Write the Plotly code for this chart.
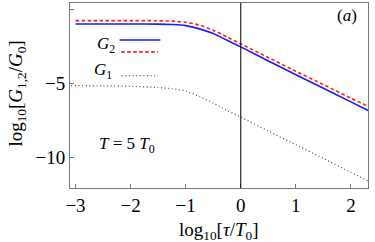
import plotly.graph_objects as go

# log10(tau/T0)
x_vals = [-3.0, -2.5, -2.0, -1.5, -1.25, -1.0, -0.75, -0.5, -0.25, 0.0, 0.5, 1.0, 1.5, 2.0, 2.31]
g2_blue = [-0.95, -0.95, -0.95, -0.96, -0.99, -1.06, -1.28, -1.60, -2.05, -2.50, -3.45, -4.38, -5.30, -6.22, -6.80]
g2_red = [-0.72, -0.72, -0.72, -0.73, -0.76, -0.83, -1.03, -1.37, -1.83, -2.30, -3.22, -4.15, -5.05, -5.97, -6.52]
x_g1 = [-3.08, -2.5, -2.0, -1.5, -1.25, -1.0, -0.75, -0.5, -0.25, 0.0, 0.5, 1.0, 1.5, 2.0, 2.31]
g1_vals = [-5.12, -5.14, -5.17, -5.25, -5.33, -5.48, -5.85, -6.30, -6.80, -7.25, -8.20, -9.12, -10.05, -11.00, -11.58]

x_ticks = [-3, -2, -1, 0, 1, 2]
y_ticks = [0, -5, -10]

FONT = "Liberation Serif"
fig = go.Figure()

fig.add_trace(go.Scatter(x=x_g1, y=g1_vals, mode="lines",
                         line=dict(color="#555555", width=1.3, dash="1px,2.6px", shape="spline", smoothing=0.6),
                         showlegend=False, hoverinfo="skip"))
fig.add_trace(go.Scatter(x=x_vals, y=g2_blue, mode="lines",
                         line=dict(color="#1a1aff", width=1.6, shape="spline", smoothing=0.6),
                         showlegend=False, hoverinfo="skip"))
fig.add_trace(go.Scatter(x=x_vals, y=g2_red, mode="lines",
                         line=dict(color="#ff2020", width=1.6, dash="3.5px,2.5px", shape="spline", smoothing=0.6),
                         showlegend=False, hoverinfo="skip"))

# vertical line at x = 0
fig.add_shape(type="line", xref="x", yref="paper", x0=0, x1=0, y0=0, y1=1,
              line=dict(color="black", width=1))

# legend keys
fig.add_shape(type="line", xref="x", yref="y", x0=-2.2, x1=-1.46, y0=-2.03, y1=-2.03,
              line=dict(color="#1a1aff", width=1.6))
fig.add_shape(type="line", xref="x", yref="y", x0=-2.17, x1=-1.5, y0=-2.84, y1=-2.84,
              line=dict(color="#ff2020", width=1.6, dash="3.5px,2.5px"))
fig.add_shape(type="line", xref="x", yref="y", x0=-2.16, x1=-1.5, y0=-4.44, y1=-4.44,
              line=dict(color="#555555", width=1.3, dash="1px,2.6px"))

ann_font = dict(family=FONT, size=17, color="black")
title_font = dict(family=FONT, size=19, color="black")
fig.add_annotation(x=-2.45, y=-2.35, xref="x", yref="y", text="<i>G</i><sub>2</sub>",
                   showarrow=False, font=ann_font)
fig.add_annotation(x=-2.5, y=-4.15, xref="x", yref="y", text="<i>G</i><sub>1</sub>",
                   showarrow=False, font=ann_font)
fig.add_annotation(x=-2.07, y=-9.15, xref="x", yref="y", text="<i>T</i> = 5 <i>T</i><sub>0</sub>",
                   showarrow=False, font=ann_font)
fig.add_annotation(x=1.93, y=-0.4, xref="x", yref="y", text="(<i>a</i>)",
                   showarrow=False, font=ann_font)

# axis titles
fig.add_annotation(x=0.5, y=-0.23, xref="paper", yref="paper",
                   text="log<sub>10</sub>[<i>τ</i>/<i>T</i><sub>0</sub>]",
                   showarrow=False, font=title_font, xanchor="center", yanchor="middle")
fig.add_annotation(x=-0.178, y=0.51, xref="paper", yref="paper", textangle=-90,
                   text="log<sub>10</sub>[<i>G</i><sub>1,2</sub>/<i>G</i><sub>0</sub>]",
                   showarrow=False, font=title_font, xanchor="center", yanchor="middle")

axis_common = dict(showline=True, linecolor="#777777", linewidth=1, mirror=True,
                   ticks="inside", ticklen=4, tickcolor="#777777", showgrid=False, zeroline=False,
                   automargin=False,
                   tickfont=dict(family=FONT, size=19, color="black"))

fig.update_xaxes(range=[-3.1, 2.31], tickvals=x_ticks, **axis_common)
fig.update_yaxes(range=[-12.05, 0.47], tickvals=y_ticks, **axis_common)

fig.update_layout(width=375, height=242, margin=dict(l=70, r=7, t=3, b=54),
                  plot_bgcolor="white", paper_bgcolor="white", showlegend=False,
                  font=dict(family=FONT))

fig.write_html("out.html", config={"displayModeBar": False},
               post_script="document.body.style.margin='0';document.body.style.padding='0';document.body.style.overflow='hidden';")
